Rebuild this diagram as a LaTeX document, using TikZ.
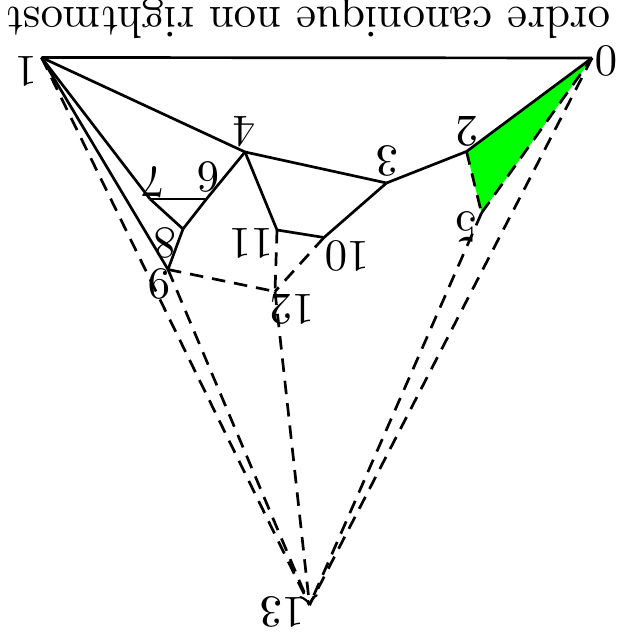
\documentclass[tikz,border=0pt]{standalone}

\begin{document}
\begin{tikzpicture}[x=0.2227pt,y=-0.2227pt,line width=0.6pt,
  lbl/.style={rotate=180,inner sep=0pt},
  dsh/.style={dash pattern=on 3pt off 2pt},
  ar/.style={->,dsh}]
\useasboundingbox (0,0) rectangle (616,639);
% sommets
\coordinate (v0) at (592,58);
\coordinate (v1) at (41.5,57.5);
\coordinate (v2) at (466.5,151.5);
\coordinate (v3) at (386.5,183);
\coordinate (v4) at (245,152);
\coordinate (v5) at (481.5,213);
\coordinate (v6) at (206.5,199);
\coordinate (v7) at (150,199);
\coordinate (v8) at (183,229);
\coordinate (v9) at (168,269.5);
\coordinate (v10) at (324,237.5);
\coordinate (v11) at (277,230);
\coordinate (v12) at (275,291.5);
\coordinate (v13) at (309.5,605);
% face
\fill[green] (v0)--(v2)--(v5)--cycle;
% aretes
\draw (v1)--(v0);\draw (v0)--(v2);\draw (v2)--(v3);\draw (v3)--(v4);\draw (v4)--(v1);
\draw (v4)--(v6);\draw (v6)--(v8);\draw (v6)--(v7);\draw (v1)--(v7);\draw (v7)--(v8);
\draw (v8)--(v9);\draw (v1)--(v9);
\draw (v4)--(v11);\draw (v11)--(v10);\draw (v10)--(v3);
\draw[dsh] (v2)--(v5);\draw[dsh] (v5)--(v0);
\draw[dsh] (v9)--(v12);\draw[dsh] (v11)--(v12);\draw[dsh] (v10)--(v12);
\draw[dsh] (v1)--(v13);\draw[dsh] (v9)--(v13);\draw[dsh] (v5)--(v13);\draw[dsh] (v0)--(v13);
\draw[ar] (v12)--(v13);
% etiquettes
\node[lbl] (titre) at (308,18) {ordre canonique non rightmost};
\node[lbl] (l0) at (606,61) {0};
\node[lbl] (l1) at (26,71) {1};
\node[lbl] (l2) at (467,131) {2};
\node[lbl] (l3) at (387,161) {3};
\node[lbl] (l4) at (244,132) {4};
\node[lbl] (l5) at (466,227) {5};
\node[lbl] (l6) at (208,177) {6};
\node[lbl] (l7) at (153,182) {7};
\node[lbl] (l8) at (165,243) {8};
\node[lbl] (l9) at (159,284) {9};
\node[lbl] (l10) at (347,256) {10};
\node[lbl] (l11) at (251,243) {11};
\node[lbl] (l12) at (292,309) {12};
\node[lbl] (l13) at (282,612) {13};
\end{tikzpicture}
\end{document}
